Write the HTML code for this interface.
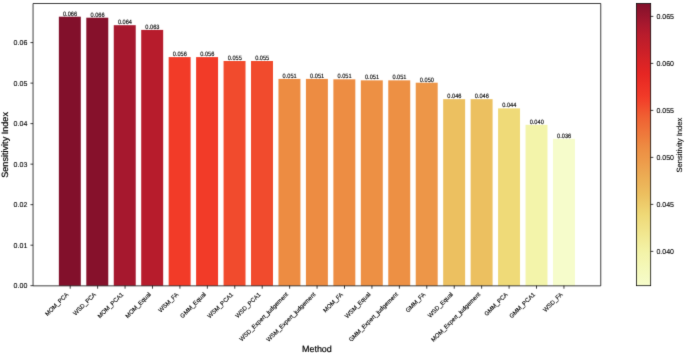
<!DOCTYPE html>
<html><head><meta charset="utf-8"><title>Sensitivity Index by Method</title>
<style>html,body{margin:0;padding:0;background:#fff}svg{display:block}</style></head>
<body>
<svg width="685" height="353" viewBox="0 0 685 353" font-family="Liberation Sans, Arial, sans-serif" fill="#000" text-rendering="geometricPrecision">
<defs><filter id="soft" x="0" y="0" width="100%" height="100%" color-interpolation-filters="sRGB"><feConvolveMatrix order="3" kernelMatrix="0.01000 0.08000 0.01000 0.08000 0.64000 0.08000 0.01000 0.08000 0.01000" divisor="1" edgeMode="duplicate" preserveAlpha="true"/></filter></defs>
<rect width="685" height="353" fill="#fff"/>
<g filter="url(#soft)">
<rect width="685" height="353" fill="#fff"/>
<rect x="58.85" y="16.70" width="21.96" height="269.00" fill="#82102b"/>
<rect x="86.31" y="17.70" width="21.96" height="268.00" fill="#86112b"/>
<rect x="113.76" y="25.20" width="21.96" height="260.50" fill="#a6182e"/>
<rect x="141.21" y="29.90" width="21.96" height="255.80" fill="#b71c2c"/>
<rect x="168.66" y="57.10" width="21.96" height="228.60" fill="#f23b28"/>
<rect x="196.11" y="57.10" width="21.96" height="228.60" fill="#f23b28"/>
<rect x="223.56" y="61.00" width="21.96" height="224.70" fill="#f14b2d"/>
<rect x="251.02" y="61.00" width="21.96" height="224.70" fill="#f14b2d"/>
<rect x="278.47" y="78.90" width="21.96" height="206.80" fill="#ed8c42"/>
<rect x="305.92" y="78.90" width="21.96" height="206.80" fill="#ed8c42"/>
<rect x="333.37" y="79.30" width="21.96" height="206.40" fill="#ed8d43"/>
<rect x="360.82" y="80.35" width="21.96" height="205.35" fill="#ed9044"/>
<rect x="388.27" y="80.35" width="21.96" height="205.35" fill="#ed9044"/>
<rect x="415.73" y="82.70" width="21.96" height="203.00" fill="#ed9648"/>
<rect x="443.18" y="99.15" width="21.96" height="186.55" fill="#ecc060"/>
<rect x="470.63" y="99.15" width="21.96" height="186.55" fill="#ecc060"/>
<rect x="498.08" y="108.40" width="21.96" height="177.30" fill="#efda78"/>
<rect x="525.53" y="124.80" width="21.96" height="160.90" fill="#f3f4aa"/>
<rect x="552.98" y="138.80" width="21.96" height="146.90" fill="#f6fccb"/>
<path d="M33.05,285.84999999999997V3.5H600.75V285.84999999999997Z" fill="none" stroke="#000" stroke-width="0.75"/>
<line x1="30.449999999999996" x2="33.05" y1="285.70" y2="285.70" stroke="#000" stroke-width="0.75"/>
<line x1="30.449999999999996" x2="33.05" y1="245.18" y2="245.18" stroke="#000" stroke-width="0.75"/>
<line x1="30.449999999999996" x2="33.05" y1="204.67" y2="204.67" stroke="#000" stroke-width="0.75"/>
<line x1="30.449999999999996" x2="33.05" y1="164.15" y2="164.15" stroke="#000" stroke-width="0.75"/>
<line x1="30.449999999999996" x2="33.05" y1="123.63" y2="123.63" stroke="#000" stroke-width="0.75"/>
<line x1="30.449999999999996" x2="33.05" y1="83.12" y2="83.12" stroke="#000" stroke-width="0.75"/>
<line x1="30.449999999999996" x2="33.05" y1="42.60" y2="42.60" stroke="#000" stroke-width="0.75"/>
<line x1="70.20" x2="70.20" y1="285.7" y2="288.7" stroke="#000" stroke-width="0.75"/>
<line x1="97.63" x2="97.63" y1="285.7" y2="288.7" stroke="#000" stroke-width="0.75"/>
<line x1="125.06" x2="125.06" y1="285.7" y2="288.7" stroke="#000" stroke-width="0.75"/>
<line x1="152.49" x2="152.49" y1="285.7" y2="288.7" stroke="#000" stroke-width="0.75"/>
<line x1="179.92" x2="179.92" y1="285.7" y2="288.7" stroke="#000" stroke-width="0.75"/>
<line x1="207.35" x2="207.35" y1="285.7" y2="288.7" stroke="#000" stroke-width="0.75"/>
<line x1="234.78" x2="234.78" y1="285.7" y2="288.7" stroke="#000" stroke-width="0.75"/>
<line x1="262.21" x2="262.21" y1="285.7" y2="288.7" stroke="#000" stroke-width="0.75"/>
<line x1="289.64" x2="289.64" y1="285.7" y2="288.7" stroke="#000" stroke-width="0.75"/>
<line x1="317.07" x2="317.07" y1="285.7" y2="288.7" stroke="#000" stroke-width="0.75"/>
<line x1="344.50" x2="344.50" y1="285.7" y2="288.7" stroke="#000" stroke-width="0.75"/>
<line x1="371.93" x2="371.93" y1="285.7" y2="288.7" stroke="#000" stroke-width="0.75"/>
<line x1="399.36" x2="399.36" y1="285.7" y2="288.7" stroke="#000" stroke-width="0.75"/>
<line x1="426.79" x2="426.79" y1="285.7" y2="288.7" stroke="#000" stroke-width="0.75"/>
<line x1="454.22" x2="454.22" y1="285.7" y2="288.7" stroke="#000" stroke-width="0.75"/>
<line x1="481.65" x2="481.65" y1="285.7" y2="288.7" stroke="#000" stroke-width="0.75"/>
<line x1="509.08" x2="509.08" y1="285.7" y2="288.7" stroke="#000" stroke-width="0.75"/>
<line x1="536.51" x2="536.51" y1="285.7" y2="288.7" stroke="#000" stroke-width="0.75"/>
<line x1="563.94" x2="563.94" y1="285.7" y2="288.7" stroke="#000" stroke-width="0.75"/>
<defs><linearGradient id="cb" x1="0" y1="0" x2="0" y2="1"><stop offset="0.0000" stop-color="#82102b"/><stop offset="0.0156" stop-color="#8a122c"/><stop offset="0.0312" stop-color="#92142c"/><stop offset="0.0469" stop-color="#9a152d"/><stop offset="0.0625" stop-color="#a2172e"/><stop offset="0.0781" stop-color="#aa192e"/><stop offset="0.0938" stop-color="#b11a2d"/><stop offset="0.1094" stop-color="#b81c2c"/><stop offset="0.1250" stop-color="#bd1d2b"/><stop offset="0.1406" stop-color="#c21e2a"/><stop offset="0.1562" stop-color="#c71f29"/><stop offset="0.1719" stop-color="#cc2028"/><stop offset="0.1875" stop-color="#d12227"/><stop offset="0.2031" stop-color="#d72326"/><stop offset="0.2188" stop-color="#dc2425"/><stop offset="0.2344" stop-color="#e12524"/><stop offset="0.2500" stop-color="#e62623"/><stop offset="0.2656" stop-color="#e82a24"/><stop offset="0.2812" stop-color="#eb2e25"/><stop offset="0.2969" stop-color="#ed3226"/><stop offset="0.3125" stop-color="#ef3627"/><stop offset="0.3281" stop-color="#f13a28"/><stop offset="0.3438" stop-color="#f2412a"/><stop offset="0.3594" stop-color="#f1492c"/><stop offset="0.3750" stop-color="#f1522e"/><stop offset="0.3906" stop-color="#f05a31"/><stop offset="0.4062" stop-color="#f06233"/><stop offset="0.4219" stop-color="#ef6835"/><stop offset="0.4375" stop-color="#ef6e37"/><stop offset="0.4531" stop-color="#ef753a"/><stop offset="0.4688" stop-color="#ee7b3c"/><stop offset="0.4844" stop-color="#ee823e"/><stop offset="0.5000" stop-color="#ed8841"/><stop offset="0.5156" stop-color="#ed8e43"/><stop offset="0.5312" stop-color="#ed9346"/><stop offset="0.5469" stop-color="#ed9748"/><stop offset="0.5625" stop-color="#ed9c4b"/><stop offset="0.5781" stop-color="#eda14e"/><stop offset="0.5938" stop-color="#eca651"/><stop offset="0.6094" stop-color="#ecab53"/><stop offset="0.6250" stop-color="#ecb056"/><stop offset="0.6406" stop-color="#ecb459"/><stop offset="0.6562" stop-color="#ecb95c"/><stop offset="0.6719" stop-color="#ecbe5e"/><stop offset="0.6875" stop-color="#ecc363"/><stop offset="0.7031" stop-color="#edc968"/><stop offset="0.7188" stop-color="#eece6d"/><stop offset="0.7344" stop-color="#eed472"/><stop offset="0.7500" stop-color="#efd977"/><stop offset="0.7656" stop-color="#efdc7d"/><stop offset="0.7812" stop-color="#f0df83"/><stop offset="0.7969" stop-color="#f0e288"/><stop offset="0.8125" stop-color="#f1e68e"/><stop offset="0.8281" stop-color="#f1e994"/><stop offset="0.8438" stop-color="#f2ec9a"/><stop offset="0.8594" stop-color="#f2efa0"/><stop offset="0.8750" stop-color="#f3f2a5"/><stop offset="0.8906" stop-color="#f3f4ab"/><stop offset="0.9062" stop-color="#f4f5af"/><stop offset="0.9219" stop-color="#f4f7b4"/><stop offset="0.9375" stop-color="#f4f8b9"/><stop offset="0.9531" stop-color="#f5f9bd"/><stop offset="0.9688" stop-color="#f5fac2"/><stop offset="0.9844" stop-color="#f6fbc6"/><stop offset="1.0000" stop-color="#f6fccb"/></linearGradient></defs>
<rect x="636.4" y="3.5" width="14.30" height="282.2" fill="url(#cb)" stroke="#000" stroke-width="0.75"/>
<line x1="650.7" x2="653.3000000000001" y1="251.39" y2="251.39" stroke="#000" stroke-width="0.75"/>
<line x1="650.7" x2="653.3000000000001" y1="204.39" y2="204.39" stroke="#000" stroke-width="0.75"/>
<line x1="650.7" x2="653.3000000000001" y1="157.38" y2="157.38" stroke="#000" stroke-width="0.75"/>
<line x1="650.7" x2="653.3000000000001" y1="110.38" y2="110.38" stroke="#000" stroke-width="0.75"/>
<line x1="650.7" x2="653.3000000000001" y1="63.38" y2="63.38" stroke="#000" stroke-width="0.75"/>
<line x1="650.7" x2="653.3000000000001" y1="16.38" y2="16.38" stroke="#000" stroke-width="0.75"/>
<text transform="translate(70.04,15.75) scale(1,1.1)" font-size="5.65" text-anchor="middle" stroke="#000" stroke-width="0.12">0.066</text>
<text transform="translate(97.49,16.75) scale(1,1.1)" font-size="5.65" text-anchor="middle" stroke="#000" stroke-width="0.12">0.066</text>
<text transform="translate(124.94,24.25) scale(1,1.1)" font-size="5.65" text-anchor="middle" stroke="#000" stroke-width="0.12">0.064</text>
<text transform="translate(152.39,28.95) scale(1,1.1)" font-size="5.65" text-anchor="middle" stroke="#000" stroke-width="0.12">0.063</text>
<text transform="translate(179.84,56.15) scale(1,1.1)" font-size="5.65" text-anchor="middle" stroke="#000" stroke-width="0.12">0.056</text>
<text transform="translate(207.29,56.15) scale(1,1.1)" font-size="5.65" text-anchor="middle" stroke="#000" stroke-width="0.12">0.056</text>
<text transform="translate(234.75,60.05) scale(1,1.1)" font-size="5.65" text-anchor="middle" stroke="#000" stroke-width="0.12">0.055</text>
<text transform="translate(262.20,60.05) scale(1,1.1)" font-size="5.65" text-anchor="middle" stroke="#000" stroke-width="0.12">0.055</text>
<text transform="translate(289.65,77.95) scale(1,1.1)" font-size="5.65" text-anchor="middle" stroke="#000" stroke-width="0.12">0.051</text>
<text transform="translate(317.10,77.95) scale(1,1.1)" font-size="5.65" text-anchor="middle" stroke="#000" stroke-width="0.12">0.051</text>
<text transform="translate(344.55,78.35) scale(1,1.1)" font-size="5.65" text-anchor="middle" stroke="#000" stroke-width="0.12">0.051</text>
<text transform="translate(372.00,79.40) scale(1,1.1)" font-size="5.65" text-anchor="middle" stroke="#000" stroke-width="0.12">0.051</text>
<text transform="translate(399.45,79.40) scale(1,1.1)" font-size="5.65" text-anchor="middle" stroke="#000" stroke-width="0.12">0.051</text>
<text transform="translate(426.91,81.75) scale(1,1.1)" font-size="5.65" text-anchor="middle" stroke="#000" stroke-width="0.12">0.050</text>
<text transform="translate(454.36,98.20) scale(1,1.1)" font-size="5.65" text-anchor="middle" stroke="#000" stroke-width="0.12">0.046</text>
<text transform="translate(481.81,98.20) scale(1,1.1)" font-size="5.65" text-anchor="middle" stroke="#000" stroke-width="0.12">0.046</text>
<text transform="translate(509.26,107.45) scale(1,1.1)" font-size="5.65" text-anchor="middle" stroke="#000" stroke-width="0.12">0.044</text>
<text transform="translate(536.71,123.85) scale(1,1.1)" font-size="5.65" text-anchor="middle" stroke="#000" stroke-width="0.12">0.040</text>
<text transform="translate(564.16,137.85) scale(1,1.1)" font-size="5.65" text-anchor="middle" stroke="#000" stroke-width="0.12">0.036</text>
<text transform="translate(27.3,288.42)" font-size="7.04" text-anchor="end" stroke="#000" stroke-width="0.1">0.00</text>
<text transform="translate(27.3,247.90)" font-size="7.04" text-anchor="end" stroke="#000" stroke-width="0.1">0.01</text>
<text transform="translate(27.3,207.39)" font-size="7.04" text-anchor="end" stroke="#000" stroke-width="0.1">0.02</text>
<text transform="translate(27.3,166.87)" font-size="7.04" text-anchor="end" stroke="#000" stroke-width="0.1">0.03</text>
<text transform="translate(27.3,126.35)" font-size="7.04" text-anchor="end" stroke="#000" stroke-width="0.1">0.04</text>
<text transform="translate(27.3,85.84)" font-size="7.04" text-anchor="end" stroke="#000" stroke-width="0.1">0.05</text>
<text transform="translate(27.3,45.32)" font-size="7.04" text-anchor="end" stroke="#000" stroke-width="0.1">0.06</text>
<text transform="translate(68.94,294.80) rotate(-45)" font-size="6.0" text-anchor="end" stroke="#000" stroke-width="0.12">MOM_PCA</text>
<text transform="translate(96.39,294.80) rotate(-45)" font-size="6.0" text-anchor="end" stroke="#000" stroke-width="0.12">WSD_PCA</text>
<text transform="translate(123.84,294.80) rotate(-45)" font-size="6.0" text-anchor="end" stroke="#000" stroke-width="0.12">MOM_PCA1</text>
<text transform="translate(151.29,294.80) rotate(-45)" font-size="6.0" text-anchor="end" stroke="#000" stroke-width="0.12">MOM_Equal</text>
<text transform="translate(178.74,294.80) rotate(-45)" font-size="6.0" text-anchor="end" stroke="#000" stroke-width="0.12">WSM_FA</text>
<text transform="translate(206.19,294.80) rotate(-45)" font-size="6.0" text-anchor="end" stroke="#000" stroke-width="0.12">GMM_Equal</text>
<text transform="translate(233.65,294.80) rotate(-45)" font-size="6.0" text-anchor="end" stroke="#000" stroke-width="0.12">WSM_PCA1</text>
<text transform="translate(261.10,294.80) rotate(-45)" font-size="6.0" text-anchor="end" stroke="#000" stroke-width="0.12">WSD_PCA1</text>
<text transform="translate(288.55,294.80) rotate(-45)" font-size="6.0" text-anchor="end" stroke="#000" stroke-width="0.12">WSD_Expert_judgement</text>
<text transform="translate(316.00,294.80) rotate(-45)" font-size="6.0" text-anchor="end" stroke="#000" stroke-width="0.12">WSM_Expert_judgement</text>
<text transform="translate(343.45,294.80) rotate(-45)" font-size="6.0" text-anchor="end" stroke="#000" stroke-width="0.12">MOM_FA</text>
<text transform="translate(370.90,294.80) rotate(-45)" font-size="6.0" text-anchor="end" stroke="#000" stroke-width="0.12">WSM_Equal</text>
<text transform="translate(398.35,294.80) rotate(-45)" font-size="6.0" text-anchor="end" stroke="#000" stroke-width="0.12">GMM_Expert_judgement</text>
<text transform="translate(425.81,294.80) rotate(-45)" font-size="6.0" text-anchor="end" stroke="#000" stroke-width="0.12">GMM_FA</text>
<text transform="translate(453.26,294.80) rotate(-45)" font-size="6.0" text-anchor="end" stroke="#000" stroke-width="0.12">WSD_Equal</text>
<text transform="translate(480.71,294.80) rotate(-45)" font-size="6.0" text-anchor="end" stroke="#000" stroke-width="0.12">MOM_Expert_judgement</text>
<text transform="translate(508.16,294.80) rotate(-45)" font-size="6.0" text-anchor="end" stroke="#000" stroke-width="0.12">GMM_PCA</text>
<text transform="translate(535.61,294.80) rotate(-45)" font-size="6.0" text-anchor="end" stroke="#000" stroke-width="0.12">GMM_PCA1</text>
<text transform="translate(563.06,294.80) rotate(-45)" font-size="6.0" text-anchor="end" stroke="#000" stroke-width="0.12">WSD_FA</text>
<text transform="translate(316.90,351.7)" font-size="8.96" text-anchor="middle" stroke="#000" stroke-width="0.2">Method</text>
<text transform="translate(7.8,144.90) rotate(-90)" font-size="9.1" text-anchor="middle" stroke="#000" stroke-width="0.2">Sensitivity Index</text>
<text transform="translate(656.4,254.01)" font-size="7.04" stroke="#000" stroke-width="0.1">0.040</text>
<text transform="translate(656.4,207.01)" font-size="7.04" stroke="#000" stroke-width="0.1">0.045</text>
<text transform="translate(656.4,160.00)" font-size="7.04" stroke="#000" stroke-width="0.1">0.050</text>
<text transform="translate(656.4,113.00)" font-size="7.04" stroke="#000" stroke-width="0.1">0.055</text>
<text transform="translate(656.4,66.00)" font-size="7.04" stroke="#000" stroke-width="0.1">0.060</text>
<text transform="translate(656.4,19.00)" font-size="7.04" stroke="#000" stroke-width="0.1">0.065</text>
<text transform="translate(681.9,145.10) rotate(-90)" font-size="7.6" text-anchor="middle" stroke="#000" stroke-width="0.12">Sensitivity Index</text>
</g>
</svg>
</body></html>
